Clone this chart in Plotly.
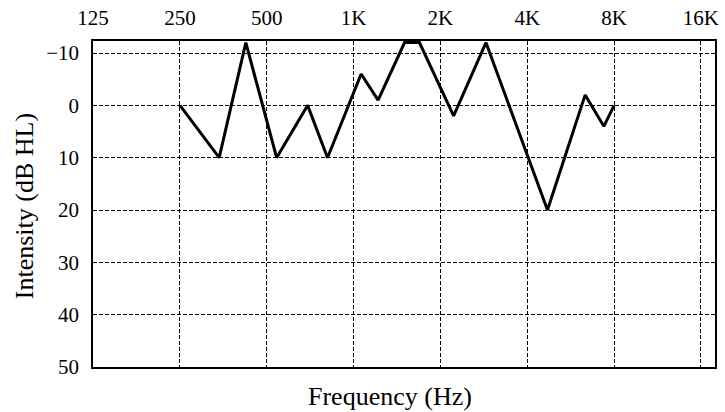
import math
import plotly.graph_objects as go

# Data
freqs_hz = [250, 342, 423, 541, 693, 812, 1062, 1216, 1502, 1691, 2222, 2876, 4700, 6350, 7370, 8000]
intensity_db = [0, 10, -12, 10, 0, 10, -6, -1, -12, -12, 2, -12, 20, -2, 4, 0]

x_tick_vals = [125, 250, 500, 1000, 2000, 4000, 8000, 16000]
x_tick_text = ["125", "250", "500", "1K", "2K", "4K", "8K", "16K"]
y_tick_vals = [-10, 0, 10, 20, 30, 40, 50]

FONT = "Liberation Serif, Times New Roman, serif"

fig = go.Figure()
fig.add_trace(go.Scatter(
    x=freqs_hz, y=intensity_db, mode="lines",
    line=dict(color="black", width=3),
    showlegend=False,
))

fig.update_layout(
    width=725, height=412,
    margin=dict(l=93, r=6, t=38, b=45),
    paper_bgcolor="white", plot_bgcolor="white",
    font=dict(family=FONT, color="black", size=21),
    xaxis=dict(
        type="log", side="top",
        range=[math.log10(124.9), math.log10(17900)],
        tickvals=x_tick_vals, ticktext=x_tick_text,
        tickfont=dict(family=FONT, size=21, color="black"),
        showgrid=True, gridcolor="black", gridwidth=1, griddash="4px,2px",
        showline=True, linecolor="black", linewidth=1.5, mirror=True,
        ticks="", ticklabelstandoff=6, zeroline=False,
    ),
    yaxis=dict(
        range=[50, -12.3],
        tickvals=y_tick_vals,
        tickfont=dict(family=FONT, size=21, color="black"),
        showgrid=True, gridcolor="black", gridwidth=1, griddash="4px,2px",
        showline=True, linecolor="black", linewidth=1.5, mirror=True,
        ticks="", ticklabelstandoff=8, zeroline=False,
    ),
    annotations=[
        dict(text="Frequency (Hz)", xref="paper", yref="paper",
             x=0.478, y=-0.09, xanchor="center", yanchor="middle",
             showarrow=False, font=dict(family=FONT, size=26, color="black")),
        dict(text="Intensity (dB HL)", xref="paper", yref="paper",
             x=-0.11, y=0.492, xanchor="center", yanchor="middle",
             textangle=-90, showarrow=False,
             font=dict(family=FONT, size=26, color="black")),
    ],
)

fig.write_html(
    "out.html", config={"displayModeBar": False},
    post_script=("document.body.style.margin='0';"
                 "document.body.style.overflow='hidden';"
                 "document.documentElement.style.overflow='hidden';"),
)
